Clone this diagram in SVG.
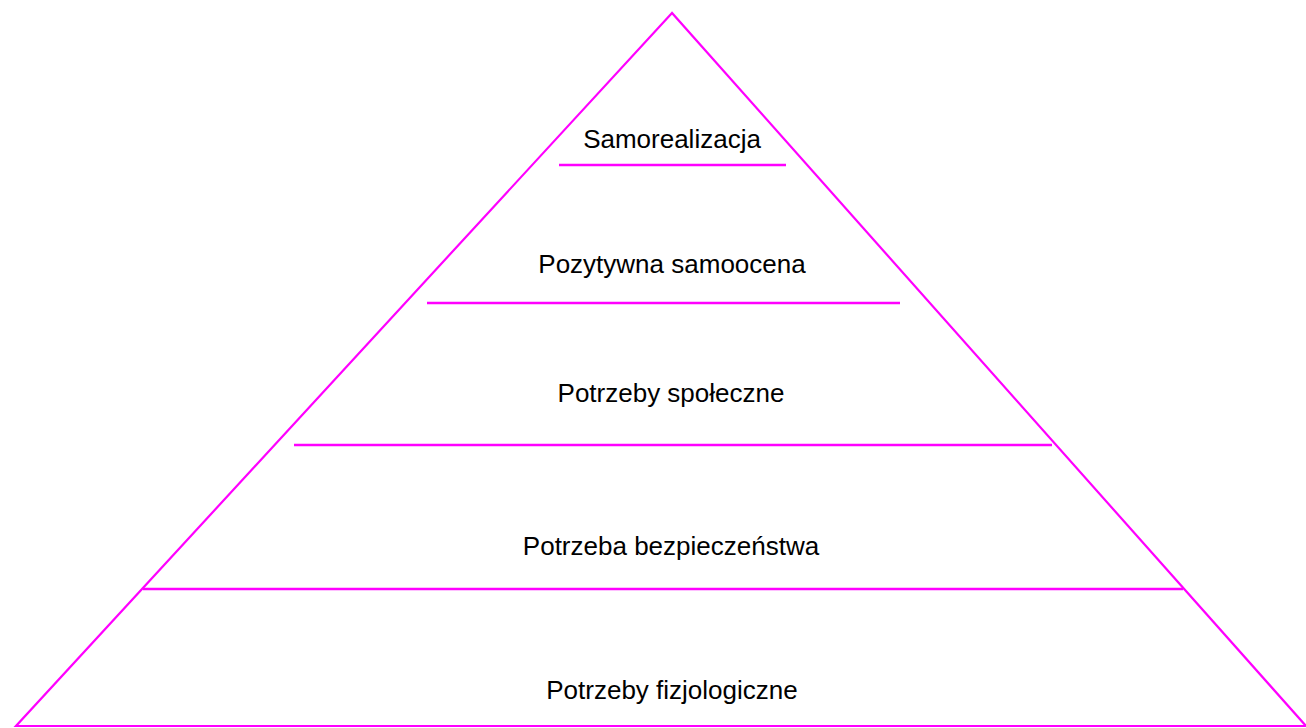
<svg xmlns="http://www.w3.org/2000/svg" width="1306" height="728" viewBox="0 0 1306 728">
<style>
.ln{stroke:#FF00FF;stroke-width:2.5;fill:none}
.tri{stroke:#FF00FF;stroke-width:2.2;fill:none}
.t{font-family:"Liberation Sans",Arial,sans-serif;font-size:26px;fill:#000;text-anchor:middle}
</style>
<rect width="1306" height="728" fill="#fff"/>
<g id="pyramid">
<polygon class="tri" points="672,13 16,726 1306,726"/>
</g>
<g id="dividers">
<line class="ln" x1="559" y1="165" x2="786" y2="165"/>
<line class="ln" x1="427" y1="303" x2="900" y2="303"/>
<line class="ln" x1="294" y1="445" x2="1052" y2="445"/>
<line class="ln" x1="143" y1="589" x2="1183" y2="589"/>
</g>
<g id="level5"><text class="t" x="672" y="148">Samorealizacja</text></g>
<g id="level4"><text class="t" x="672" y="273">Pozytywna samoocena</text></g>
<g id="level3"><text class="t" x="671" y="402">Potrzeby społeczne</text></g>
<g id="level2"><text class="t" x="671" y="555">Potrzeba bezpieczeństwa</text></g>
<g id="level1"><text class="t" x="672" y="699">Potrzeby fizjologiczne</text></g>
</svg>
